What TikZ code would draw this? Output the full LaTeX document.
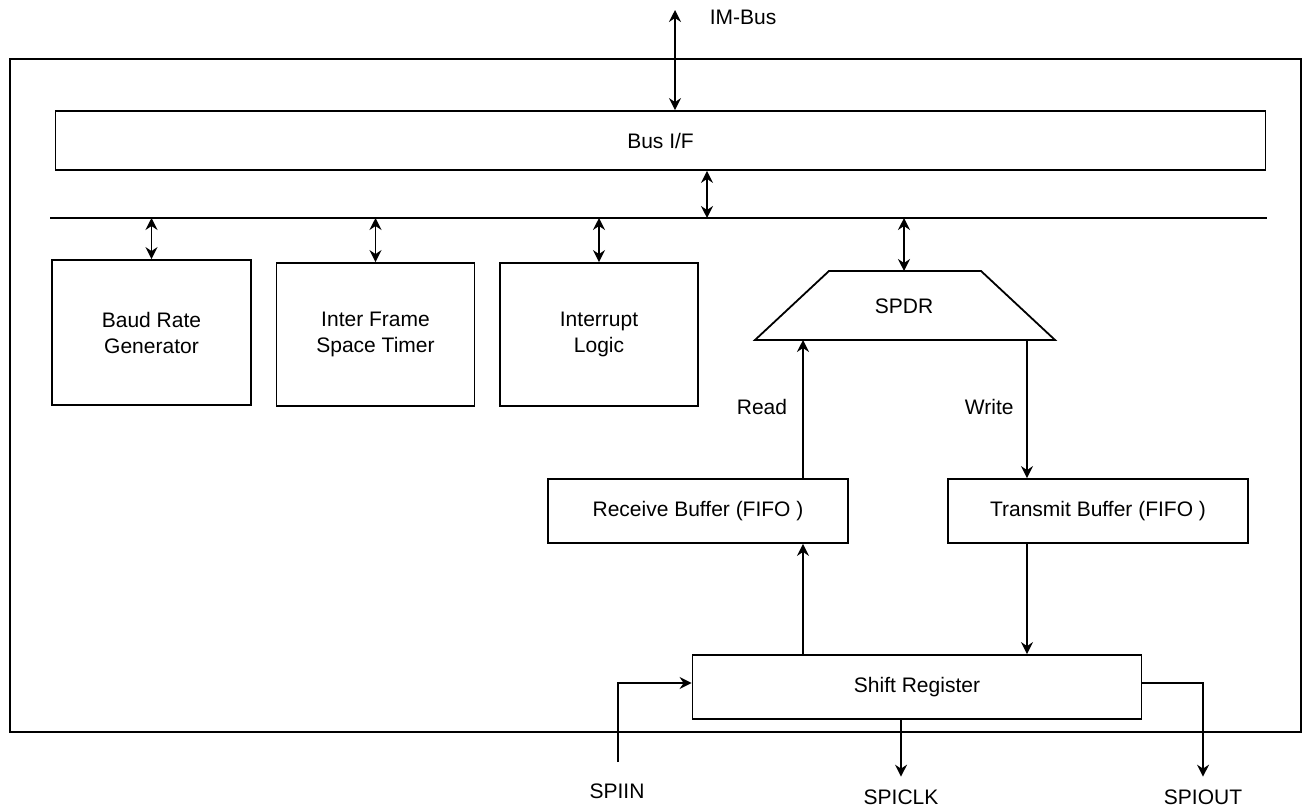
\documentclass[tikz,border=0pt]{standalone}
\usepackage{fontspec}
\setmainfont{Liberation Sans}
\usetikzlibrary{arrows.meta}

\begin{document}
\begin{tikzpicture}[x=1pt,y=-1pt,line width=1.8pt,
  every node/.style={inner sep=0pt,font=\fontsize{21pt}{26pt}\selectfont},
  blk/.style={draw,align=center},
  sig/.style={-{Stealth[length=12pt,width=12pt,inset=4pt]}},
  bus/.style={{Stealth[length=12pt,width=12pt,inset=4pt]}-{Stealth[length=12pt,width=12pt,inset=4pt]}}]
\useasboundingbox (0,0) rectangle (1308,810);
\draw (10,59) rectangle (1301,732);
\node[blk,minimum width=1210pt,minimum height=59pt] (busif) at (660.5,140.5) {Bus I/F};
\coordinate (busL) at (50,218); \coordinate (busR) at (1267,218);
\draw (busL) -- (busR);
\coordinate (imtop) at (675,10); \coordinate (ifx) at (707,218);
\draw[bus] (imtop) -- (imtop |- busif.north);
\node[anchor=west] (imlbl) at (709,17) {IM-Bus};
\draw[bus] (ifx |- busif.south) -- (ifx);

\node[blk,minimum width=199pt,minimum height=145pt] (baud) at (151.5,332.5) {Baud Rate\\Generator};
\node[blk,minimum width=198pt,minimum height=143pt] (ifs) at (375.5,334.5) {Inter Frame\\Space Timer};
\node[blk,minimum width=198pt,minimum height=143pt] (intr) at (599,334.5) {Interrupt\\Logic};
\draw[bus] (busL -| baud.north) -- (baud.north);
\draw[bus] (busL -| ifs.north) -- (ifs.north);
\draw[bus] (busL -| intr.north) -- (intr.north);

\draw (829,271) -- (981,271) -- (1055,340) -- (755,340) -- cycle;
\node (spdr) at (904,306) {SPDR};
\coordinate (spdrT) at (904,271);
\draw[bus] (busL -| spdrT) -- (spdrT);

\node[blk,minimum width=300pt,minimum height=64pt] (recv) at (698,511) {Receive Buffer (FIFO )};
\node[blk,minimum width=300pt,minimum height=64pt] (xmit) at (1098,511) {Transmit Buffer (FIFO )};
\node[blk,minimum width=449pt,minimum height=64pt] (shift) at (917,687) {Shift Register};
\coordinate (rd) at (803,340); \coordinate (wr) at (1027,340);
\draw[sig] (rd |- recv.north) -- (rd);
\draw[sig] (wr) -- (wr |- xmit.north);
\draw[sig] (rd |- shift.north) -- (rd |- recv.south);
\draw[sig] (wr |- xmit.south) -- (wr |- shift.north);
\node[anchor=east] (rdlbl) at (788,407) {Read};
\node[anchor=west] (wrlbl) at (964,407) {Write};

\node (spiin) at (617,791) {SPIIN};
\node (spiclk) at (901,797) {SPICLK};
\node (spiout) at (1203,797) {SPIOUT};
\coordinate (inpt) at (618,762);
\draw[sig] (inpt) |- ([yshift=4pt]shift.west);
\draw[sig] (spiclk.north |- shift.south) -- ([yshift=12pt]spiclk.north);
\draw[sig] ([yshift=4pt]shift.east) -| ([yshift=12pt]spiout.north);
\end{tikzpicture}
\end{document}
